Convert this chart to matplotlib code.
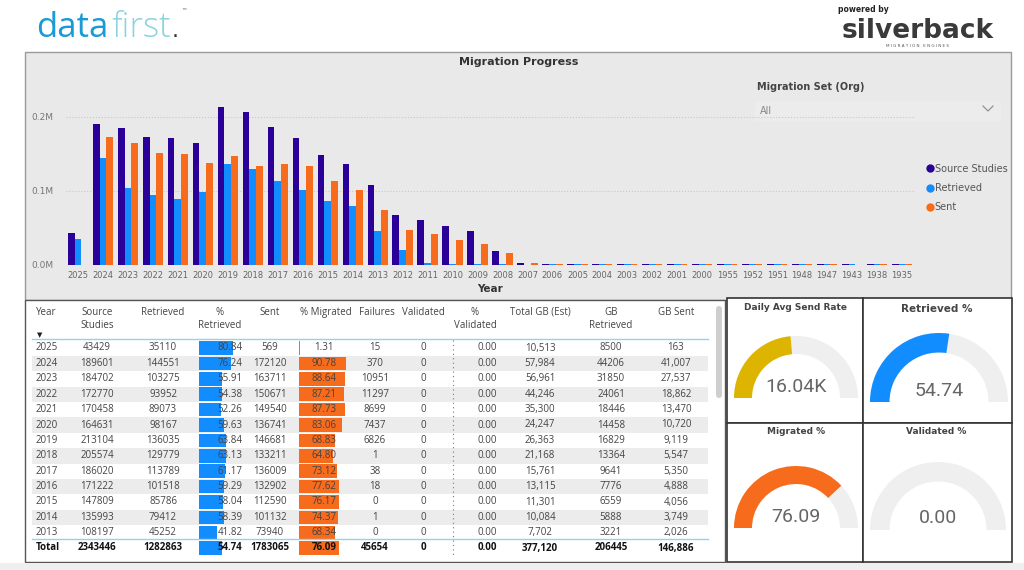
import matplotlib.pyplot as plt
from matplotlib.patches import Rectangle, Wedge, FancyBboxPatch
from matplotlib.lines import Line2D

# ---- chart data ----
years = ['2025', '2024', '2023', '2022', '2021', '2020', '2019', '2018', '2017', '2016',
         '2015', '2014', '2013', '2012', '2011', '2010', '2009', '2008', '2007', '2006',
         '2005', '2004', '2003', '2002', '2001', '2000', '1955', '1952', '1951', '1948',
         '1947', '1943', '1938', '1935']
source_studies = [43429, 189601, 184702, 172770, 170458, 164631, 213104, 205574, 186020, 171222,
                  147809, 135993, 108197, 67000, 61000, 52500, 45300, 18400, 3100, 900,
                  900, 900, 900, 900, 900, 900, 900, 900, 900, 900,
                  900, 900, 900, 900]
retrieved = [35110, 144551, 103275, 93952, 89073, 98167, 136035, 129779, 113789, 101518,
             85786, 79412, 45252, 20000, 2200, 1800, 1300, 900, 600, 700,
             700, 700, 700, 700, 700, 700, 700, 700, 700, 700,
             700, 700, 700, 700]
sent = [569, 172120, 163711, 150671, 149540, 136741, 146681, 133211, 136009, 132902,
        112590, 101132, 73940, 47000, 41500, 34000, 28000, 16500, 2200, 800,
        800, 800, 800, 800, 800, 800, 800, 800, 800, 800,
        800, 0, 800, 800]

# ---- table data ----
t_year = ['2025', '2024', '2023', '2022', '2021', '2020', '2019', '2018', '2017', '2016', '2015', '2014', '2013']
t_source = [43429, 189601, 184702, 172770, 170458, 164631, 213104, 205574, 186020, 171222, 147809, 135993, 108197]
t_retrieved = [35110, 144551, 103275, 93952, 89073, 98167, 136035, 129779, 113789, 101518, 85786, 79412, 45252]
t_pct_retrieved = [80.84, 76.24, 55.91, 54.38, 52.26, 59.63, 63.84, 63.13, 61.17, 59.29, 58.04, 58.39, 41.82]
t_sent = [569, 172120, 163711, 150671, 149540, 136741, 146681, 133211, 136009, 132902, 112590, 101132, 73940]
t_pct_migrated = [1.31, 90.78, 88.64, 87.21, 87.73, 83.06, 68.83, 64.80, 73.12, 77.62, 76.17, 74.37, 68.34]
t_failures = [15, 370, 10951, 11297, 8699, 7437, 6826, 1, 38, 18, 0, 1, 0]
t_validated = [0] * 13
t_pct_validated = [0.0] * 13
t_total_gb = [10513, 57984, 56961, 44246, 35300, 24247, 26363, 21168, 15761, 13115, 11301, 10084, 7702]
t_gb_retrieved = [8500, 44206, 31850, 24061, 18446, 14458, 16829, 13364, 9641, 7776, 6559, 5888, 3221]
t_gb_sent = [163, 41007, 27537, 18862, 13470, 10720, 9119, 5547, 5350, 4888, 4056, 3749, 2026]
totals = ['Total', 2343446, 1282863, 54.74, 1783065, 76.09, 45654, 0, 0.0, 377120, 206445, 146886]
headers = ['Year', 'Source\nStudies', 'Retrieved', '%\nRetrieved', 'Sent', '% Migrated', 'Failures',
           'Validated', '%\nValidated', 'Total GB (Est)', 'GB\nRetrieved', 'GB Sent']

# ---- gauges ----
gauge_titles = ['Daily Avg Send Rate', 'Retrieved %', 'Migrated %', 'Validated %']
gauge_labels = ['16.04K', '54.74', '76.09', '0.00']
gauge_values = [16040, 54.74, 76.09, 0.0]
gauge_max = [34000, 100, 100, 100]

C_SRC = '#2B0099'
C_RET = '#118DFF'
C_SENT = '#F76B1C'
GAUGE_COLORS = ['#DDB400', C_RET, C_SENT, '#cccccc']

W, H = 1024, 570
fig = plt.figure(figsize=(W / 100, H / 100), dpi=100)
fig.patch.set_facecolor('white')

ov = fig.add_axes([0, 0, 1, 1], zorder=0)
ov.set_xlim(0, W)
ov.set_ylim(H, 0)
ov.axis('off')


def px_axes(x0, y0, x1, y1, **kw):
    return fig.add_axes([x0 / W, 1 - y1 / H, (x1 - x0) / W, (y1 - y0) / H], **kw)


# header logos
ov.text(36, 37, 'data', fontsize=25, color='#1A9AD6', family='Open Sans', va='baseline')
ov.text(111, 37, 'first', fontsize=25, color='#8CD3E1', family='Open Sans', weight='light', va='baseline')
ov.text(172, 37, '.', fontsize=16, color='#333333', va='baseline')
ov.text(181, 12, '™', fontsize=4, color='#555555', va='center')
ov.add_patch(Rectangle((833, 3), 168, 47, facecolor='white', edgecolor='none'))
ov.text(838, 10, 'powered by', fontsize=5.5, weight='bold', color='#222222', va='center')
ov.text(918, 31, 'silverback', fontsize=19, weight='heavy', color='#3a3a3a', ha='center', va='center',
        family='DejaVu Sans')
ov.text(918, 46, 'M I G R A T I O N   E N G I N E S', fontsize=3, color='#555555', ha='center', va='center')

# panels
ov.add_patch(Rectangle((25, 52), 986, 248, facecolor='#e9e9e9', edgecolor='#9a9a9a', lw=1))
ov.add_patch(Rectangle((25, 300), 700, 262, facecolor='white', edgecolor='#555555', lw=1))
for (x0, y0, w, h) in [(727, 298, 136, 125), (863, 298, 149, 125), (727, 423, 136, 139), (863, 423, 149, 139)]:
    ov.add_patch(Rectangle((x0, y0), w, h, facecolor='white', edgecolor='#333333', lw=1.2))
ov.add_patch(Rectangle((0, 563), W, 7, facecolor='#efefef', edgecolor='none'))

ov.text(519, 62, 'Migration Progress', fontsize=8, weight='bold', color='#333333', ha='center', va='center')
ov.text(490, 289, 'Year', fontsize=7.5, weight='bold', color='#333333', ha='center', va='center')

# slicer
ov.text(757, 87, 'Migration Set (Org)', fontsize=7, weight='bold', color='#444444', va='center')
ov.add_patch(Rectangle((755, 101), 246, 20, facecolor='#ececec', edgecolor='none'))
ov.text(760, 111, 'All', fontsize=7, color='#888888', va='center')
ov.plot([983, 988, 993], [106, 111, 106], color='#888888', lw=0.8)

# bar chart
ax = px_axes(65.5, 95, 914.5, 265, zorder=1)
ax.set_facecolor('none')
idx = list(range(len(years)))
bw = 0.27
ax.bar([i - bw for i in idx], source_studies, bw, color=C_SRC, label='Source Studies')
ax.bar(idx, retrieved, bw, color=C_RET, label='Retrieved')
ax.bar([i + bw for i in idx], sent, bw, color=C_SENT, label='Sent')
ax.set_xlim(-0.5, len(years) - 0.5)
ax.set_ylim(0, 229000)
ax.set_xticks(idx)
ax.set_xticklabels(years, fontsize=6, color='#666666')
ax.set_yticks([0, 100000, 200000])
ax.set_yticklabels(['0.0M', '0.1M', '0.2M'], fontsize=6.5, color='#777777')
ax.tick_params(length=0, pad=4)
ax.tick_params(axis='y', pad=9)
for s in ax.spines.values():
    s.set_visible(False)
ax.yaxis.grid(True, linestyle=':', color='#c8c8c8', lw=0.8)
ax.set_axisbelow(True)

handles = [Line2D([], [], marker='o', ls='', color=c, markersize=5) for c in (C_SRC, C_RET, C_SENT)]
fig.legend(handles, ['Source Studies', 'Retrieved', 'Sent'], loc='upper left',
           bbox_to_anchor=(918 / W, 1 - 155 / H), frameon=False, fontsize=7,
           handlelength=0.6, handletextpad=0.2, labelspacing=0.95, labelcolor='#555555')

# table
col_x = [36, 97, 163, 230, 270, 324, 375, 423, 497, 540, 611, 676]
col_ha = ['left', 'center', 'center', 'center', 'center', 'center', 'center', 'center', 'right',
          'center', 'center', 'center']
head_x = [36, 97, 163, 220, 270, 326, 377, 423, 475, 540, 611, 676]
for hx, h, ha in zip(head_x, headers, col_ha):
    ov.text(hx, 307, h, fontsize=7, color='#444444', ha='left' if ha == 'left' else 'center', va='top',
            linespacing=1.3, family='Open Sans')
ov.text(37, 335, '▼', fontsize=5, color='#222222', va='center')
ov.plot([32, 708], [339, 339], color='#9ccdf0', lw=1)

row_h = 15.4
for i in range(len(t_year)):
    yc = 348 + i * row_h
    if i % 2 == 1:
        ov.add_patch(Rectangle((32, yc - row_h / 2), 676, row_h, facecolor='#ececec', edgecolor='none'))
    ov.add_patch(Rectangle((199, yc - 6.8), t_pct_retrieved[i] * 0.42, 13.6, facecolor=C_RET, edgecolor='none'))
    ov.add_patch(Rectangle((299, yc - 6.8), t_pct_migrated[i] * 0.52, 13.6, facecolor=C_SENT, edgecolor='none'))
    vals = [t_year[i], str(t_source[i]), str(t_retrieved[i]), f'{t_pct_retrieved[i]:.2f}', str(t_sent[i]),
            f'{t_pct_migrated[i]:.2f}', str(t_failures[i]), str(t_validated[i]), f'{t_pct_validated[i]:.2f}',
            f'{t_total_gb[i]:,}', str(t_gb_retrieved[i]), f'{t_gb_sent[i]:,}']
    for x, v, ha in zip(col_x, vals, col_ha):
        ov.text(x, yc, v, fontsize=7, color='#444444', ha=ha, va='center', family='Open Sans')

yt = 548
ov.plot([32, 708], [539, 539], color='#9ccdf0', lw=1)
ov.add_patch(Rectangle((199, yt - 6.8), totals[3] * 0.42, 13.6, facecolor=C_RET, edgecolor='none'))
ov.add_patch(Rectangle((299, yt - 6.8), totals[5] * 0.52, 13.6, facecolor=C_SENT, edgecolor='none'))
tvals = [totals[0], str(totals[1]), str(totals[2]), f'{totals[3]:.2f}', str(totals[4]), f'{totals[5]:.2f}',
         str(totals[6]), str(totals[7]), f'{totals[8]:.2f}', f'{totals[9]:,}', str(totals[10]), f'{totals[11]:,}']
for x, v, ha in zip(col_x, tvals, col_ha):
    ov.text(x, yt, v, fontsize=7, color='#111111', ha=ha, va='center', weight='bold', family='Open Sans')

ov.plot([453, 453], [340, 556], color='#777777', lw=0.8, ls=(0, (1, 3)))
ov.add_patch(FancyBboxPatch((716, 306), 6, 92, boxstyle='round,pad=0,rounding_size=3',
                            facecolor='#cfcfcf', edgecolor='none'))

# gauges
g_center = [(796, 398), (939, 402), (796, 528), (938, 530)]
g_radius = [62, 69, 62, 68]
g_width = [18, 19.5, 18, 19.5]
g_title_pos = [(796, 308), (937, 309), (796, 431), (936, 431)]
g_text_y = [387, 391, 517, 518]
for k in range(4):
    cx, cy = g_center[k]
    r, w = g_radius[k], g_width[k]
    ov.add_patch(Wedge((cx, cy), r, 180, 360, width=w, facecolor='#efefef', edgecolor='none'))
    frac = gauge_values[k] / gauge_max[k]
    if frac > 0:
        ov.add_patch(Wedge((cx, cy), r, 180, 180 + 180 * frac, width=w,
                           facecolor=GAUGE_COLORS[k], edgecolor='none'))
    tx, ty = g_title_pos[k]
    ov.text(tx, ty, gauge_titles[k], fontsize=6.5 if k != 1 else 7.5, weight='bold', color='#444444',
            ha='center', va='center')
    ov.text(cx, g_text_y[k], gauge_labels[k], fontsize=14, color='#666666', ha='center', va='center',
            family='Roboto')

fig.savefig('out.png', dpi=100, facecolor=fig.get_facecolor())
